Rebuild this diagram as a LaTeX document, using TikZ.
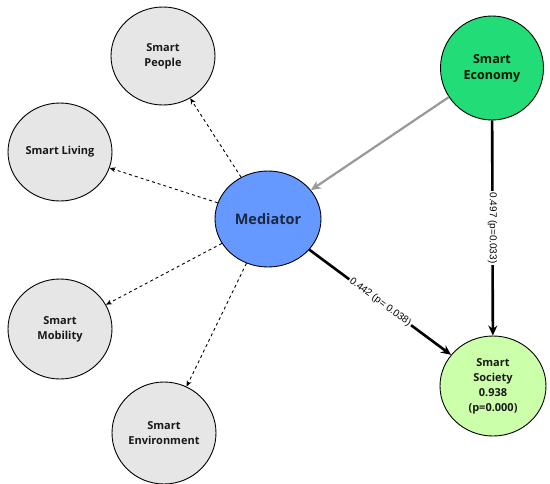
\documentclass[tikz,border=0pt]{standalone}
\usepackage{fontspec}
\setmainfont{Open Sans}
\newfontfamily\labfont{Liberation Sans}
\usetikzlibrary{arrows.meta,shapes.geometric}
\definecolor{nodegray}{HTML}{E6E6E6}
\definecolor{econgreen}{HTML}{22DD77}
\definecolor{medblue}{HTML}{6699FF}
\definecolor{socgreen}{HTML}{CCFFAA}
\definecolor{navytext}{HTML}{1C2840}
\definecolor{arrgray}{HTML}{999999}
\begin{document}
\begin{tikzpicture}[x=1pt,y=-1pt,
  bubble/.style={ellipse,draw=black,line width=0.9pt,minimum width=104pt,minimum height=98pt,inner sep=0pt,align=center,font=\bfseries\fontsize{11}{15}\selectfont,text=black!90},
  dasharrow/.style={dashed,line width=0.9pt,-{Stealth[length=6pt,width=5pt]}},
  thickarrow/.style={line width=2.6pt,-{Stealth[length=10pt,width=9pt]}},
  edgelabel/.style={fill=white,inner sep=1.5pt,font=\labfont\fontsize{10}{12}\selectfont}]
\useasboundingbox[clip] (0,0) rectangle (550,483);
\fill[white] (0,0) rectangle (550,483);
\node[bubble,fill=nodegray] (people) at (163,56) {Smart\\People};
\node[bubble,fill=nodegray] (living) at (60,152) {Smart Living};
\node[bubble,fill=nodegray,minimum height=100pt] (mobility) at (60,329) {Smart\\Mobility};
\node[bubble,fill=nodegray,minimum height=102pt] (env) at (164,433) {Smart\\Environment};
\node[bubble,fill=econgreen,minimum width=103pt,minimum height=104pt,font=\bfseries\fontsize{12.5}{16}\selectfont,text=black!80!green!40!black] (econ) at (492,68) {Smart\\Economy};
\node[bubble,fill=medblue,minimum width=106pt,minimum height=96pt,font=\bfseries\fontsize{14.5}{17}\selectfont,text=navytext] (med) at (268,219) {Mediator};
\node[bubble,fill=socgreen,minimum width=106pt,minimum height=100pt] (soc) at (493,386) {Smart\\Society\\0.938\\(p=0.000)};
\draw[dasharrow] (med) -- (people);
\draw[dasharrow] (med) -- (living);
\draw[dasharrow] (med) -- (mobility);
\draw[dasharrow] (med) -- (env);
\draw[line width=2.2pt,draw=arrgray,-{Stealth[length=10pt,width=9pt]}] (econ) -- (med);
\draw[thickarrow] (econ) -- node[edgelabel,rotate=-90] {0.497 (p=0.033)} (soc);
\draw[thickarrow] (med) -- node[edgelabel,sloped] {0.442 (p= 0.038)} (soc);
\end{tikzpicture}
\end{document}
